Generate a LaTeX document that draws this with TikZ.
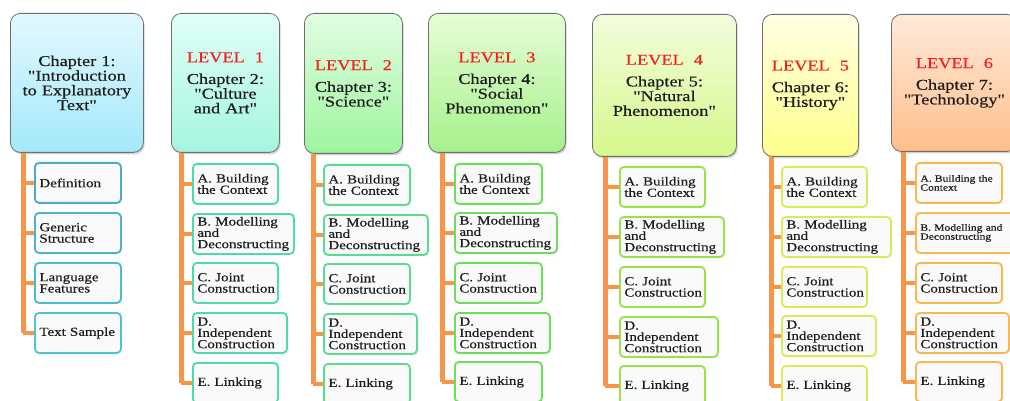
\documentclass[tikz,border=0pt]{standalone}
\usepackage{fontspec}
\setmainfont{Liberation Serif}[FakeStretch=1.22, FakeBold=0.4, Ligatures=TeXOff]
\usetikzlibrary{shadows}
\definecolor{trunkc}{HTML}{F7964A}
\definecolor{txt}{HTML}{1C1C1C}
\definecolor{lvl}{HTML}{F51E1E}
\definecolor{hbord}{HTML}{6E6E6E}
\definecolor{hAt}{HTML}{E3F8FE}\definecolor{hAb}{HTML}{A3E9FB}
\definecolor{hBt}{HTML}{E0FFF7}\definecolor{hBb}{HTML}{A5F5DF}
\definecolor{hCt}{HTML}{E2FDE2}\definecolor{hCb}{HTML}{9EF59E}
\definecolor{hDt}{HTML}{E6FDD6}\definecolor{hDb}{HTML}{A6F18C}
\definecolor{hEt}{HTML}{F3FDDD}\definecolor{hEb}{HTML}{D6F88C}
\definecolor{hFt}{HTML}{FFFFE2}\definecolor{hFb}{HTML}{FFFF8C}
\definecolor{hGt}{HTML}{FFE9D9}\definecolor{hGb}{HTML}{FFBF8C}
\definecolor{bA1}{HTML}{4BACC6}\definecolor{bA2}{HTML}{4BB4C8}
\definecolor{bA3}{HTML}{4BBCCB}\definecolor{bA4}{HTML}{4DC4CF}
\definecolor{bB}{HTML}{4FD9B0}
\definecolor{bC}{HTML}{5CDC8E}
\definecolor{bD}{HTML}{6CDF5A}
\definecolor{bE}{HTML}{98E24A}
\definecolor{bF}{HTML}{DDEA58}
\definecolor{bG}{HTML}{F8B850}
\tikzset{
  head/.style={anchor=north west, rounded corners=10pt, draw=hbord, line width=0.8pt,
    align=center, text=txt, inner sep=2pt,
    font=\fontsize{15}{14.7}\selectfont,
    drop shadow={shadow xshift=1.2pt, shadow yshift=-2pt, opacity=0.35}},
  sub/.style={anchor=north west, rounded corners=4pt, line width=1.8pt, fill=white!98!black,
    align=left, text=txt, inner xsep=4.5pt, inner ysep=1pt, minimum height=40pt,
    font=\fontsize{12.3}{11.3}\selectfont,
    drop shadow={shadow xshift=0.8pt, shadow yshift=-1pt, opacity=0.15}},
  small/.style={font=\fontsize{9.5}{9}\selectfont},
  trunk/.style={draw=trunkc, line width=5pt},
  conn/.style={draw=trunkc, line width=4pt},
}
\newcommand{\lv}[1]{\textcolor{lvl}{LEVEL~ #1}\\[7pt]}
\begin{document}
\begin{tikzpicture}[x=1pt,y=-1pt]
\useasboundingbox (0,0) rectangle (1010,401);
% ---------- headers ----------
\node[head, top color=hAt, bottom color=hAb, minimum width=133pt, minimum height=139pt, text width=127pt] (h1) at (10,13)
  {Chapter 1:\\"Introduction\\to Explanatory\\Text"};
\node[head, top color=hBt, bottom color=hBb, minimum width=108pt, minimum height=139pt, text width=102pt] (h2) at (171,13)
  {\lv{1}Chapter 2:\\"Culture\\and Art"};
\node[head, top color=hCt, bottom color=hCb, minimum width=98pt, minimum height=140pt, text width=92pt] (h3) at (304,13)
  {\lv{2}Chapter 3:\\"Science"};
\node[head, top color=hDt, bottom color=hDb, minimum width=137pt, minimum height=139pt, text width=131pt] (h4) at (428,13)
  {\lv{3}Chapter 4:\\"Social\\Phenomenon"};
\node[head, top color=hEt, bottom color=hEb, minimum width=144pt, minimum height=142pt, text width=138pt] (h5) at (592,14)
  {\lv{4}Chapter 5:\\"Natural\\Phenomenon"};
\node[head, top color=hFt, bottom color=hFb, minimum width=96pt, minimum height=142pt, text width=90pt] (h6) at (762,14)
  {\lv{5}Chapter 6:\\"History"};
\node[head, top color=hGt, bottom color=hGb, minimum width=126pt, minimum height=137pt, text width=120pt] (h7) at (891,14)
  {\lv{6}Chapter 7:\\"Technology"};
% ---------- column 1 ----------
\node[sub, draw=bA1, minimum width=86pt, text width=77pt] (c1a) at (34,162) {Definition};
\node[sub, draw=bA2, minimum width=86pt, text width=77pt] (c1b) at (34,212) {Generic\\Structure};
\node[sub, draw=bA3, minimum width=86pt, text width=77pt] (c1c) at (34,262) {Language\\Features};
\node[sub, draw=bA4, minimum width=86pt, text width=77pt] (c1d) at (34,312) {Text Sample};
% ---------- column 2 ----------
\node[sub, draw=bB, minimum width=85pt, text width=76pt] (c2a) at (192,163) {A. Building\\the Context};
\node[sub, draw=bB, minimum width=101pt, text width=92pt] (c2b) at (192,213) {B. Modelling\\and\\Deconstructing};
\node[sub, draw=bB, minimum width=85pt, text width=76pt] (c2c) at (192,262) {C. Joint\\Construction};
\node[sub, draw=bB, minimum width=94pt, text width=85pt] (c2d) at (192,312) {D.\\Independent\\Construction};
\node[sub, draw=bB, minimum width=85pt, text width=76pt] (c2e) at (192,362) {E. Linking};
% ---------- column 3 ----------
\node[sub, draw=bC, minimum width=86pt, text width=77pt] (c3a) at (323,164) {A. Building\\the Context};
\node[sub, draw=bC, minimum width=104pt, text width=95pt] (c3b) at (323,214) {B. Modelling\\and\\Deconstructing};
\node[sub, draw=bC, minimum width=86pt, text width=77pt] (c3c) at (323,263) {C. Joint\\Construction};
\node[sub, draw=bC, minimum width=93pt, text width=84pt] (c3d) at (323,313) {D.\\Independent\\Construction};
\node[sub, draw=bC, minimum width=86pt, text width=77pt] (c3e) at (323,363) {E. Linking};
% ---------- column 4 ----------
\node[sub, draw=bD, minimum width=87pt, text width=78pt] (c4a) at (454,163) {A. Building\\the Context};
\node[sub, draw=bD, minimum width=102pt, text width=93pt] (c4b) at (454,212) {B. Modelling\\and\\Deconstructing};
\node[sub, draw=bD, minimum width=87pt, text width=78pt] (c4c) at (454,262) {C. Joint\\Construction};
\node[sub, draw=bD, minimum width=95pt, text width=86pt] (c4d) at (454,312) {D.\\Independent\\Construction};
\node[sub, draw=bD, minimum width=87pt, text width=78pt] (c4e) at (454,361) {E. Linking};
% ---------- column 5 ----------
\node[sub, draw=bE, minimum width=85pt, text width=76pt] (c5a) at (619,166) {A. Building\\the Context};
\node[sub, draw=bE, minimum width=104pt, text width=95pt] (c5b) at (619,216) {B. Modelling\\and\\Deconstructing};
\node[sub, draw=bE, minimum width=85pt, text width=76pt] (c5c) at (619,266) {C. Joint\\Construction};
\node[sub, draw=bE, minimum width=98pt, text width=89pt] (c5d) at (619,316) {D.\\Independent\\Construction};
\node[sub, draw=bE, minimum width=85pt, text width=76pt] (c5e) at (619,365) {E. Linking};
% ---------- column 6 ----------
\node[sub, draw=bF, minimum width=85pt, text width=76pt] (c6a) at (781,166) {A. Building\\the Context};
\node[sub, draw=bF, minimum width=109pt, text width=100pt] (c6b) at (781,216) {B. Modelling\\and\\Deconstructing};
\node[sub, draw=bF, minimum width=85pt, text width=76pt] (c6c) at (781,266) {C. Joint\\Construction};
\node[sub, draw=bF, minimum width=94pt, text width=85pt] (c6d) at (781,315) {D.\\Independent\\Construction};
\node[sub, draw=bF, minimum width=85pt, text width=76pt] (c6e) at (781,365) {E. Linking};
% ---------- column 7 ----------
\node[sub, small, draw=bG, minimum width=86pt, text width=77pt] (c7a) at (915,162) {A. Building the\\Context};
\node[sub, small, draw=bG, minimum width=98pt, text width=89pt] (c7b) at (915,212) {B. Modelling and\\Deconstructing};
\node[sub, draw=bG, minimum width=86pt, text width=77pt] (c7c) at (915,262) {C. Joint\\Construction};
\node[sub, draw=bG, minimum width=93pt, text width=84pt] (c7d) at (915,312) {D.\\Independent\\Construction};
\node[sub, draw=bG, minimum width=86pt, text width=77pt] (c7e) at (915,361) {E. Linking};
% ---------- trunks ----------
\coordinate (t1) at ([xshift=13pt]h1.south west);
\coordinate (t2) at ([xshift=10pt]h2.south west);
\coordinate (t3) at ([xshift=9pt]h3.south west);
\coordinate (t4) at ([xshift=14pt]h4.south west);
\coordinate (t5) at ([xshift=13pt]h5.south west);
\coordinate (t6) at ([xshift=9pt]h6.south west);
\coordinate (t7) at ([xshift=12pt]h7.south west);
\draw[trunk] (t1) -- (t1 |- c1d.west);
\foreach \k in {a,b,c,d} \draw[conn] (t1 |- c1\k.west) -- (c1\k.west);
\foreach \c in {2,...,7}{
  \draw[trunk] (t\c) -- (t\c |- c\c e.west);
  \foreach \k in {a,b,c,d,e} \draw[conn] (t\c |- c\c\k.west) -- (c\c\k.west);
}
\end{tikzpicture}
\end{document}
